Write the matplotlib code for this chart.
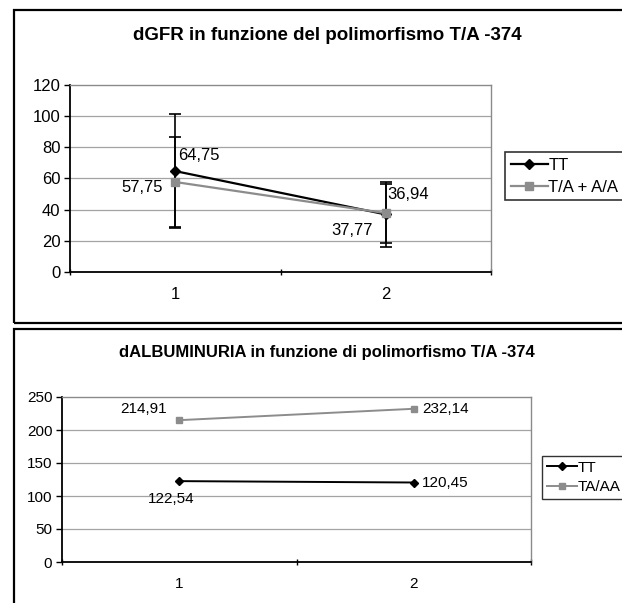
import matplotlib
matplotlib.use("Agg")
import matplotlib.pyplot as plt
from matplotlib.patches import Rectangle

plt.rcParams['font.family'] = ['Liberation Sans', 'DejaVu Sans']

# dGFR by genotype
gfr_categories = ["1", "2"]
gfr_tt = [64.75, 36.94]
gfr_ta = [57.75, 37.77]
gfr_tt_err = [36.5, 21.0]
gfr_ta_err = [29.0, 19.0]
gfr_yticks = [0, 20, 40, 60, 80, 100, 120]
gfr_labels = ["TT", "T/A + A/A"]

# dALBUMINURIA by genotype
alb_categories = ["1", "2"]
alb_tt = [122.54, 120.45]
alb_ta = [214.91, 232.14]
alb_yticks = [0, 50, 100, 150, 200, 250]
alb_labels = ["TT", "TA/AA"]

W, H = 622, 603
fig = plt.figure(figsize=(W / 100, H / 100), dpi=100)
fig.patch.set_facecolor("white")


def px_axes(left, top, right, bottom):
    return fig.add_axes([left / W, 1 - bottom / H, (right - left) / W, (bottom - top) / H])


def frame(left, top, right, bottom):
    fig.patches.append(Rectangle((left / W, 1 - bottom / H), (right - left) / W, (bottom - top) / H,
                                 transform=fig.transFigure, fill=False, edgecolor="black",
                                 linewidth=1.6, clip_on=False))


def fmt(v):
    return f"{v:.2f}".replace(".", ",")


def style_axes(ax, yticks, cats, fs):
    x = list(range(1, len(cats) + 1))
    ax.set_xlim(0.5, len(cats) + 0.5)
    ax.set_ylim(yticks[0], yticks[-1])
    ax.set_yticks(yticks)
    ax.set_yticklabels([str(t) for t in yticks], fontsize=fs)
    ax.set_xticks([i + 0.5 for i in range(len(cats) + 1)])
    ax.set_xticklabels([])
    ax.set_xticks(x, minor=True)
    ax.set_xticklabels(cats, minor=True, fontsize=fs)
    ax.tick_params(axis="x", which="minor", length=0, pad=11)
    ax.tick_params(axis="x", which="major", length=4, width=1, direction="inout")
    ax.tick_params(axis="y", length=4, width=1, direction="out", pad=3)
    for t in yticks[1:-1]:
        ax.axhline(t, color="#a3a3a3", linewidth=0.9, zorder=0)
    for s in ("top", "right"):
        ax.spines[s].set_color("#8a8a8a")
        ax.spines[s].set_linewidth(1.0)
    for s in ("left", "bottom"):
        ax.spines[s].set_color("black")
        ax.spines[s].set_linewidth(1.3)
    return x


# ---- top panel ----
frame(14, 10, 660, 323)
fig.text(327 / W, 1 - 35 / H, "dGFR in funzione del polimorfismo T/A -374",
         ha="center", va="center", fontsize=13.5, fontweight="bold")
ax1 = px_axes(70, 85, 491, 272)
x = style_axes(ax1, gfr_yticks, gfr_categories, 12)
ax1.errorbar(x, gfr_tt, yerr=gfr_tt_err, fmt="none", ecolor="black", elinewidth=1.2,
             capsize=4, capthick=1.2, zorder=3)
ax1.errorbar(x, gfr_ta, yerr=gfr_ta_err, fmt="none", ecolor="black", elinewidth=1.2,
             capsize=4, capthick=1.2, zorder=3)
l1, = ax1.plot(x, gfr_tt, color="black", linewidth=1.6, marker="D", markersize=5, zorder=4,
               label=gfr_labels[0])
l2, = ax1.plot(x, gfr_ta, color="#8c8c8c", linewidth=1.6, marker="s", markersize=5.5, zorder=4,
               label=gfr_labels[1])
ax1.annotate(fmt(gfr_tt[0]), (x[0], gfr_tt[0]), xytext=(2, 6), textcoords="offset points",
             ha="left", va="bottom", fontsize=12)
ax1.annotate(fmt(gfr_ta[0]), (x[0], gfr_ta[0]), xytext=(-9, -4), textcoords="offset points",
             ha="right", va="center", fontsize=12)
ax1.annotate(fmt(gfr_tt[1]), (x[1], gfr_tt[1]), xytext=(1, 9), textcoords="offset points",
             ha="left", va="bottom", fontsize=12)
ax1.annotate(fmt(gfr_ta[1]), (x[1], gfr_ta[1]), xytext=(-9, -7), textcoords="offset points",
             ha="right", va="top", fontsize=12)
leg1 = fig.legend(handles=[l1, l2], loc="upper left", bbox_to_anchor=(505 / W, 1 - 152 / H),
                  frameon=True, fancybox=False, fontsize=12, handlelength=2.2,
                  handletextpad=0.05, borderpad=0.35, labelspacing=0.4, borderaxespad=0)
leg1.get_frame().set_edgecolor("black")
leg1.get_frame().set_linewidth(1.2)

# ---- bottom panel ----
frame(14, 329, 660, 640)
fig.text(327 / W, 1 - 353 / H, "dALBUMINURIA in funzione di polimorfismo T/A -374",
         ha="center", va="center", fontsize=12, fontweight="bold")
ax2 = px_axes(62, 397, 531, 562)
x = style_axes(ax2, alb_yticks, alb_categories, 11)
m1, = ax2.plot(x, alb_tt, color="black", linewidth=1.4, marker="D", markersize=4.5, zorder=4,
               label=alb_labels[0])
m2, = ax2.plot(x, alb_ta, color="#8c8c8c", linewidth=1.4, marker="s", markersize=5, zorder=4,
               label=alb_labels[1])
ax2.annotate(fmt(alb_ta[0]), (x[0], alb_ta[0]), xytext=(-9, 3), textcoords="offset points",
             ha="right", va="bottom", fontsize=11)
ax2.annotate(fmt(alb_ta[1]), (x[1], alb_ta[1]), xytext=(6, 0), textcoords="offset points",
             ha="left", va="center", fontsize=11)
ax2.annotate(fmt(alb_tt[0]), (x[0], alb_tt[0]), xytext=(-6, -8), textcoords="offset points",
             ha="center", va="top", fontsize=11)
ax2.annotate(fmt(alb_tt[1]), (x[1], alb_tt[1]), xytext=(6, 0), textcoords="offset points",
             ha="left", va="center", fontsize=11)
leg2 = fig.legend(handles=[m1, m2], loc="upper left", bbox_to_anchor=(542 / W, 1 - 456 / H),
                  frameon=True, fancybox=False, fontsize=11, handlelength=2.0,
                  handletextpad=0.05, borderpad=0.3, labelspacing=0.35, borderaxespad=0)
leg2.get_frame().set_edgecolor("black")
leg2.get_frame().set_linewidth(1.0)

fig.savefig("out.png", dpi=100, facecolor="white")
